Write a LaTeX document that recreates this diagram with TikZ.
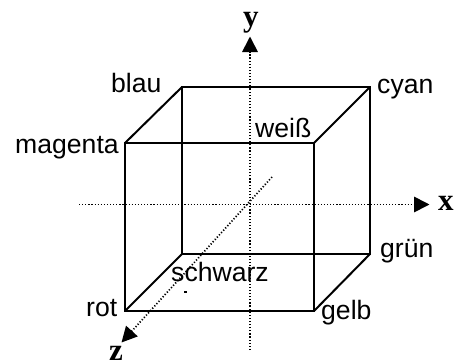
\documentclass[tikz,border=0pt]{standalone}
\usepackage{fontspec}
\setmainfont{Liberation Sans}
\newfontfamily\axisfont{Liberation Serif}
\usetikzlibrary{arrows.meta}
\tikzset{
  edge/.style={line width=2pt,line join=miter,line cap=round},
  axis/.style={line width=1.7pt,dash pattern=on 1.2pt off 1.9pt,-{Triangle[length=15.5pt,width=15.5pt]}},
  lab/.style={inner sep=0pt,anchor=base west,font=\fontsize{26.6pt}{28pt}\selectfont},
  axlab/.style={inner sep=0pt,anchor=base west,font=\axisfont\bfseries\fontsize{31pt}{32pt}\selectfont}
}
\begin{document}
\begin{tikzpicture}[x=1pt,y=-1pt]
\useasboundingbox (0,0) rectangle (458,364);
% corners
\coordinate (rot) at (125,311);
\coordinate (magenta) at (125,143);
\coordinate (blau) at (182,87);
\coordinate (cyan) at (370,87);
\coordinate (weiss) at (314,143);
\coordinate (gelb) at (314,311);
\coordinate (gruen) at (370,254);
\coordinate (schwarz) at (182,254);
% axis ends
\coordinate (ybot) at (250,350);
\coordinate (ytop) at (250,36.5);
\coordinate (xleft) at (79,204.5);
\coordinate (xright) at (429.5,204.5);
\coordinate (zback) at (272,177);
\coordinate (zfront) at (121.5,342.5);
\coordinate (specka) at (184,292);
\coordinate (speckb) at (186.5,292);
% axes
\draw[axis] (ybot) -- (ytop);
\draw[axis] (xleft) -- (xright);
\draw[axis] (zback) -- (zfront);
\draw[line width=1.1pt] (specka) -- (speckb);
% cube
\draw[edge] (magenta) -- (weiss) -- (gelb) -- (rot) -- cycle;
\draw[edge] (blau) -- (cyan) -- (gruen) -- (schwarz) -- cycle;
\draw[edge] (magenta) -- (blau);
\draw[edge] (weiss) -- (cyan);
\draw[edge] (gelb) -- (gruen);
\draw[edge] (rot) -- (schwarz);
% labels
\node[lab] (lblau) at (111,92.7) {blau};
\node[lab] (lmagenta) at (15,153) {magenta};
\node[lab] (lweiss) at (255,137.7) {weiß};
\node[lab] (lcyan) at (377,93.3) {cyan};
\node[lab] (lgruen) at (380,257) {grün};
\node[lab] (lgelb) at (321,319.3) {gelb};
\node[lab] (lrot) at (86,316) {rot};
\node[lab] (lschwarz) at (171,281) {schwarz};
\node[axlab] (lx) at (438,210.5) {x};
\node[axlab] (ly) at (243,26) {y};
\node[axlab] (lz) at (109,360.5) {z};
\end{tikzpicture}
\end{document}
